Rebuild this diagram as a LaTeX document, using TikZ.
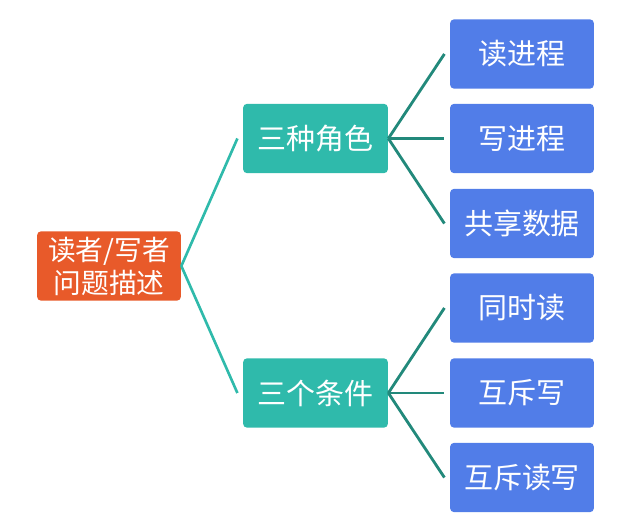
\documentclass[tikz,border=0pt]{standalone}
\usepackage{fontspec}
\newfontfamily\cjk{Noto Sans CJK SC}
\usetikzlibrary{positioning}
\definecolor{rootorange}{HTML}{E85A2A}
\definecolor{midteal}{HTML}{2FBAAB}
\definecolor{leafblue}{HTML}{517DE8}
\definecolor{linkdark}{HTML}{22897B}
\begin{document}
\begin{tikzpicture}[x=0.02cm, y=-0.02cm,
        box/.style={rounded corners=2.4pt, inner sep=0pt, minimum width=2.88cm, minimum height=1.39cm,
            text=white, font=\cjk\fontsize{16.5}{19}\selectfont, align=center},
        rootbox/.style={box, fill=rootorange, font=\cjk\fontsize{15.8}{18.8}\selectfont},
        midbox/.style={box, fill=midteal, minimum width=2.9cm},
        leafbox/.style={box, fill=leafblue},
        rootlink/.style={midteal, line width=1.5pt},
        leaflink/.style={linkdark, line width=1.6pt}]
        \useasboundingbox (0,0) rectangle (622,530);

        % root
        \node[rootbox] (root) at (109,266) {读者/写者\\问题描述};

        % second level
        \node[midbox] (roles) at (315.5,138.5) {三种角色};
        \node[midbox] (conds) at (315.5,393) {三个条件};

        % leaves
        \node[leafbox] (rdproc) at (522,54) {读进程};
        \node[leafbox] (wrproc) at (522,138.5) {写进程};
        \node[leafbox] (shared) at (522,223.5) {共享数据};
        \node[leafbox] (simread) at (522,308) {同时读};
        \node[leafbox] (mutwr) at (522,393) {互斥写};
        \node[leafbox] (mutrw) at (522,477.5) {互斥读写};

        % links
        \draw[rootlink] (root.east) -- ([xshift=-3]roles.west);
        \draw[rootlink] (root.east) -- ([xshift=-3]conds.west);
        \draw[leaflink] (roles.east) -- ([xshift=-3]rdproc.west);
        \draw[leaflink] (roles.east) -- ([xshift=-3]wrproc.west);
        \draw[leaflink] (roles.east) -- ([xshift=-3]shared.west);
        \draw[leaflink] (conds.east) -- ([xshift=-3]simread.west);
        \draw[leaflink] (conds.east) -- ([xshift=-3]mutwr.west);
        \draw[leaflink] (conds.east) -- ([xshift=-3]mutrw.west);
\end{tikzpicture}
\end{document}
